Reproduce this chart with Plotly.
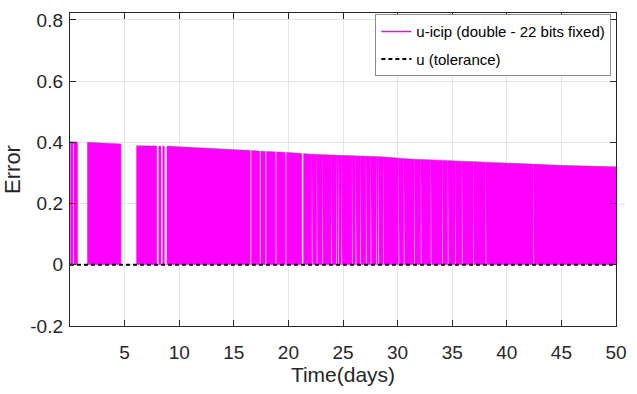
import plotly.graph_objects as go

# ---- data (x in days, y = error) ----
# filled envelope segments of the u-icip signal
seg1_x = [0.05, 0.69]
seg1_y = [0.402, 0.401]
seg2_x = [1.60, 4.66]
seg2_y = [0.400, 0.395]
seg3_x = [6.10, 8.0, 9.2, 14.0, 16.5, 19.0, 20.4, 22.2, 24.0, 25.9, 28.5,
          31.1, 34.1, 38.0, 40.0, 42.4, 44.8, 47.5, 50.0]
seg3_y = [0.389, 0.388, 0.387, 0.378, 0.374, 0.370, 0.366, 0.361, 0.359,
          0.357, 0.353, 0.346, 0.342, 0.336, 0.333, 0.329, 0.325, 0.322, 0.320]

# positions / widths (days) where the signal drops to zero (white slits)
gap_x = [0.31, 8.03, 8.40, 8.76, 16.56, 17.42, 17.94, 18.86, 19.77, 21.30,
         22.18, 22.63, 23.15, 23.93, 24.41, 24.59, 24.89, 25.85, 26.19, 26.62,
         27.13, 27.57, 28.06, 28.26, 28.71, 30.12, 30.60, 31.56, 32.16, 33.07,
         34.12, 34.63, 35.29, 35.92, 36.97, 38.09, 42.47]
gap_w = [0.08, 0.15, 0.13, 0.19, 0.07, 0.07, 0.07, 0.07, 0.07, 0.13,
         0.06, 0.06, 0.06, 0.06, 0.06, 0.06, 0.06, 0.06, 0.06, 0.06,
         0.06, 0.06, 0.06, 0.06, 0.06, 0.06, 0.06, 0.06, 0.06, 0.06,
         0.06, 0.06, 0.06, 0.06, 0.06, 0.06, 0.06]
gap_top = 0.395

# tolerance line
tol_x = [0, 50]
tol_y = [0, 0]

x_ticks = [5, 10, 15, 20, 25, 30, 35, 40, 45, 50]
y_ticks = [-0.2, 0, 0.2, 0.4, 0.6, 0.8]
y_labels = ["-0.2", "0", "0.2", "0.4", "0.6", "0.8"]

MAG = "#ff00ff"
AX = "#262626"
FONT = "Liberation Sans, Arial, sans-serif"

fig = go.Figure()

# magenta filled segments
fx, fy = [], []
for sx, sy in [(seg1_x, seg1_y), (seg2_x, seg2_y), (seg3_x, seg3_y)]:
    fx += [sx[0]] + sx + [sx[-1], None]
    fy += [0] + sy + [0, None]
fig.add_trace(go.Scatter(x=fx, y=fy, mode="lines", fill="toself",
                         fillcolor=MAG, line=dict(color=MAG, width=0.5),
                         hoverinfo="skip", showlegend=False))

# white slits
gx, gy = [], []
for c, w in zip(gap_x, gap_w):
    gx += [c - w / 2, c - w / 2, c + w / 2, c + w / 2, None]
    gy += [0.001, gap_top, gap_top, 0.001, None]
fig.add_trace(go.Scatter(x=gx, y=gy, mode="lines", fill="toself",
                         fillcolor="white", line=dict(color="white", width=0),
                         hoverinfo="skip", showlegend=False))

# legend entries
fig.add_trace(go.Scatter(x=[None], y=[None], mode="lines",
                         line=dict(color=MAG, width=1.3),
                         name="u-icip (double - 22 bits fixed)",
                         legendgroup="a"))
fig.add_trace(go.Scatter(x=tol_x, y=tol_y, mode="lines",
                         line=dict(color="black", width=2, dash="4px,3px"),
                         name="u (tolerance)", legendgroup="b"))

axis_common = dict(showline=True, linecolor=AX, linewidth=1.4, mirror="ticks",
                   ticks="inside", ticklen=6, tickwidth=1, tickcolor=AX,
                   showgrid=True, gridcolor="#e4e4e4", gridwidth=1,
                   zeroline=False,
                   tickfont=dict(family=FONT, size=19, color=AX))

fig.update_xaxes(range=[0, 50], tickvals=x_ticks, ticklabelstandoff=9,
                 title=dict(text="Time(days)", standoff=5,
                            font=dict(family=FONT, size=21, color=AX)),
                 **axis_common)
fig.update_yaxes(range=[-0.2, 0.8227], tickvals=y_ticks, ticktext=y_labels,
                 ticklabelstandoff=2,
                 title=dict(text="Error", standoff=5,
                            font=dict(family=FONT, size=22, color=AX)),
                 **axis_common)

fig.update_layout(
    width=637, height=394,
    margin=dict(l=63, r=19, t=10, b=68),
    plot_bgcolor="white", paper_bgcolor="white",
    legend=dict(x=0.9915, y=0.996, xanchor="right", yanchor="top",
                bgcolor="white", bordercolor="#8c8c8c", borderwidth=1,
                font=dict(family=FONT, size=15, color="black"),
                itemwidth=30, tracegroupgap=5),
)

fig.write_html("out.html")
